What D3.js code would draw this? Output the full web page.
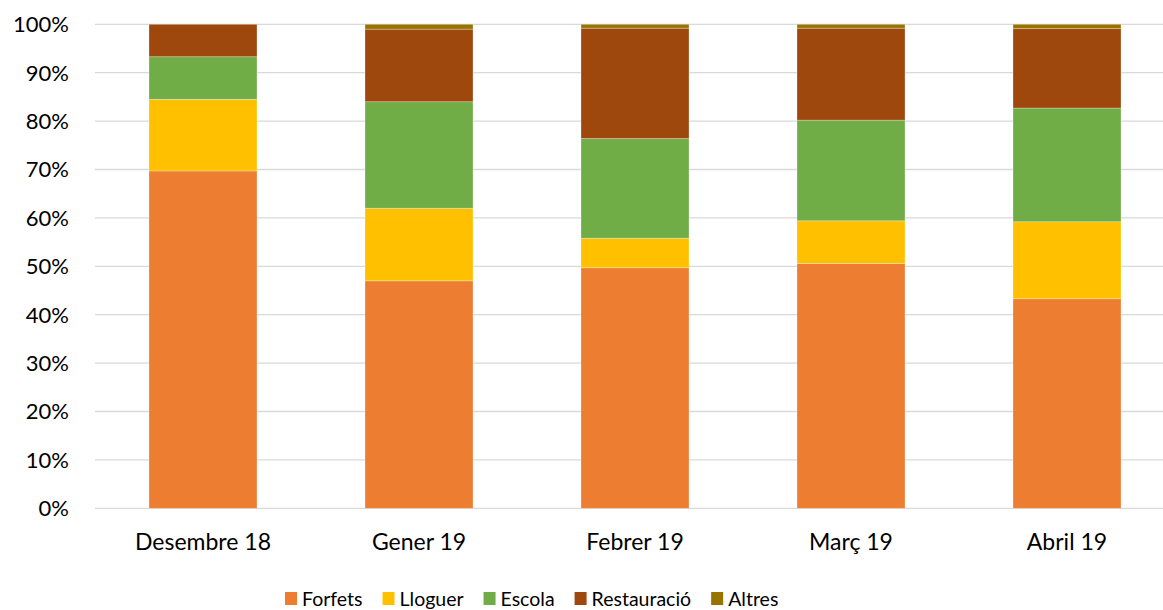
<!DOCTYPE html>
<html><head><meta charset="utf-8">
<script src="https://cdn.jsdelivr.net/npm/d3@7"></script>
<style>body{margin:0;background:#fff}svg{display:block}</style>
</head><body>
<svg id="c" width="1163" height="610"></svg>
<script>
const categories = ["Desembre 18","Gener 19","Febrer 19","Març 19","Abril 19"];
const seriesNames = ["Forfets","Lloguer","Escola","Restauració","Altres"];
const forfets     = [69.7, 47.0, 49.7, 50.6, 43.3];
const lloguer     = [14.8, 15.0, 6.1, 8.8, 15.9];
const escola      = [8.8, 22.0, 20.6, 20.8, 23.5];
const restauracio = [6.7, 15.0, 22.8, 19.0, 16.4];
const altres      = [0.0, 1.0, 0.8, 0.8, 0.9];
const yTicks = [0,10,20,30,40,50,60,70,80,90,100];
const colors = ["#ED7D31","#FFC000","#70AD47","#9E480E","#997300"];

const seriesVals = [forfets, lloguer, escola, restauracio, altres];
const rows = categories.map((c,i)=>{
  const r = {cat:c};
  let tot = 0;
  seriesNames.forEach((s,j)=>{ tot += seriesVals[j][i]; });
  seriesNames.forEach((s,j)=>{ r[s] = seriesVals[j][i]/tot*100; });
  return r;
});
const stack = d3.stack().keys(seriesNames)(rows);

const svg = d3.select("#c");
const font = "Lato, 'DejaVu Sans', sans-serif";
const x = d3.scaleBand().domain(categories).range([95,1175]).paddingInner(0.5).paddingOuter(0.25);
const y = d3.scaleLinear().domain([0,100]).range([508.3,24.3]);

// gridlines
svg.append("g").selectAll("line").data(yTicks).join("line")
  .attr("x1",95).attr("x2",1175)
  .attr("y1",d=>y(d)).attr("y2",d=>y(d))
  .attr("stroke","#d9d9d9").attr("stroke-width",1.3);

// bars
svg.append("g").selectAll("g").data(stack).join("g")
  .attr("fill",(d,i)=>colors[i])
  .selectAll("rect").data(d=>d).join("rect")
  .attr("x",d=>x(d.data.cat)).attr("width",x.bandwidth())
  .attr("y",d=>y(d[1])).attr("height",d=>Math.max(0,y(d[0])-y(d[1])))
  .attr("stroke","#ffffff").attr("stroke-opacity",0.35).attr("stroke-width",0.8);

// y labels
svg.append("g").selectAll("text").data(yTicks).join("text")
  .attr("x",69).attr("y",d=>y(d)).attr("dy","0.36em")
  .attr("text-anchor","end").attr("font-family",font).attr("font-size",22).attr("fill","#000")
  .text(d=>d+"%");

// x labels
svg.append("g").selectAll("text").data(categories).join("text")
  .attr("x",d=>x(d)+x.bandwidth()/2).attr("y",550)
  .attr("text-anchor","middle").attr("font-family",font).attr("font-size",23).attr("fill","#000")
  .text(d=>d);

// legend
const lg = svg.append("g");
let lx = 285;
seriesNames.forEach((s,i)=>{
  lg.append("rect").attr("x",lx).attr("y",592).attr("width",12).attr("height",13).attr("fill",colors[i]);
  const t = lg.append("text").attr("x",lx+17).attr("y",606).attr("font-family",font).attr("font-size",19.5).attr("fill","#000").text(s);
  lx += 17 + t.node().getComputedTextLength() + 20;
});
</script>
</body></html>
